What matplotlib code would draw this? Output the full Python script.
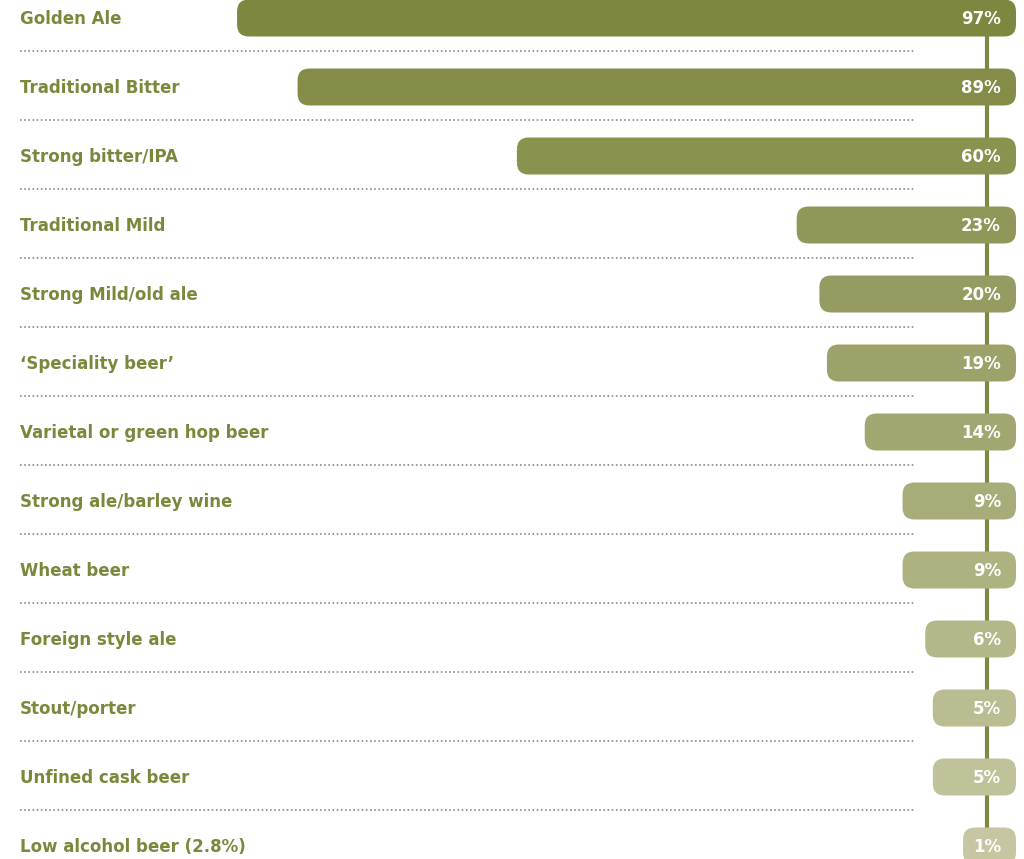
import matplotlib
matplotlib.use("Agg")
import matplotlib.pyplot as plt
from matplotlib.patches import FancyBboxPatch
from matplotlib.colors import to_rgb
import numpy as np

categories = [
    "Golden Ale", "Traditional Bitter", "Strong bitter/IPA", "Traditional Mild",
    "Strong Mild/old ale", "\u2018Speciality beer\u2019", "Varietal or green hop beer",
    "Strong ale/barley wine", "Wheat beer", "Foreign style ale", "Stout/porter",
    "Unfined cask beer", "Low alcohol beer (2.8%)",
]
values = [97, 89, 60, 23, 20, 19, 14, 9, 9, 6, 5, 5, 1]
value_labels = [f"{v}%" for v in values]

W, H, DPI = 1024, 859, 100
PX_PER_PCT = 7.5625      # horizontal pixels per percentage point
PX_PER_ROW = 69.0        # vertical pixels per row
RIGHT_PX = 1016          # right end of the bars
PAD = 6.0                # fixed extra length so small values still hold a label

fig = plt.figure(figsize=(W / DPI, H / DPI), dpi=DPI)
ax = fig.add_axes([0, 0, 1, 1])
ax.set_xlim(-RIGHT_PX / PX_PER_PCT, (W - RIGHT_PX) / PX_PER_PCT)
ax.set_ylim((H - 18) / PX_PER_ROW, -18 / PX_PER_ROW)
ax.axis("off")

def px_x(p):
    return (p - RIGHT_PX) / PX_PER_PCT

dark = np.array(to_rgb("#7e8740"))
light = np.array(to_rgb("#c6c7a2"))
n = len(values)
text_color = "#7b883c"
font = "DejaVu Sans"

# vertical spine behind the bars
ax.plot([px_x(986.5), px_x(986.5)], [-1, n + 1], color="#7d8840",
        lw=3.0, solid_capstyle="butt", zorder=1)

bar_h = 37 / PX_PER_ROW
radius = 12 / PX_PER_PCT
aspect = PX_PER_PCT / PX_PER_ROW

for i, (cat, v, lab) in enumerate(zip(categories, values, value_labels)):
    t = i / (n - 1)
    col = dark * (1 - t) + light * t
    left = -(v + PAD)
    box = FancyBboxPatch((left, i - bar_h / 2), v + PAD, bar_h,
                         boxstyle=f"round,pad=0,rounding_size={radius}",
                         mutation_aspect=aspect, facecolor=col,
                         edgecolor="none", zorder=2)
    ax.add_patch(box)
    ax.text(px_x(1001), i + 0.01, lab, ha="right", va="center",
            color="white", fontsize=12, fontweight="bold",
            family=font, zorder=3)
    ax.text(px_x(20), i + 0.01, cat, ha="left", va="center",
            color=text_color, fontsize=12, fontweight="bold",
            family=font, zorder=3)
    if i < n - 1:
        ax.plot([px_x(20), px_x(915)], [i + 0.485, i + 0.485],
                color="#8a8a8a", lw=1.2, linestyle=(0, (1, 1.5)),
                dash_capstyle="butt", zorder=1)

fig.savefig("out.png", dpi=DPI)
